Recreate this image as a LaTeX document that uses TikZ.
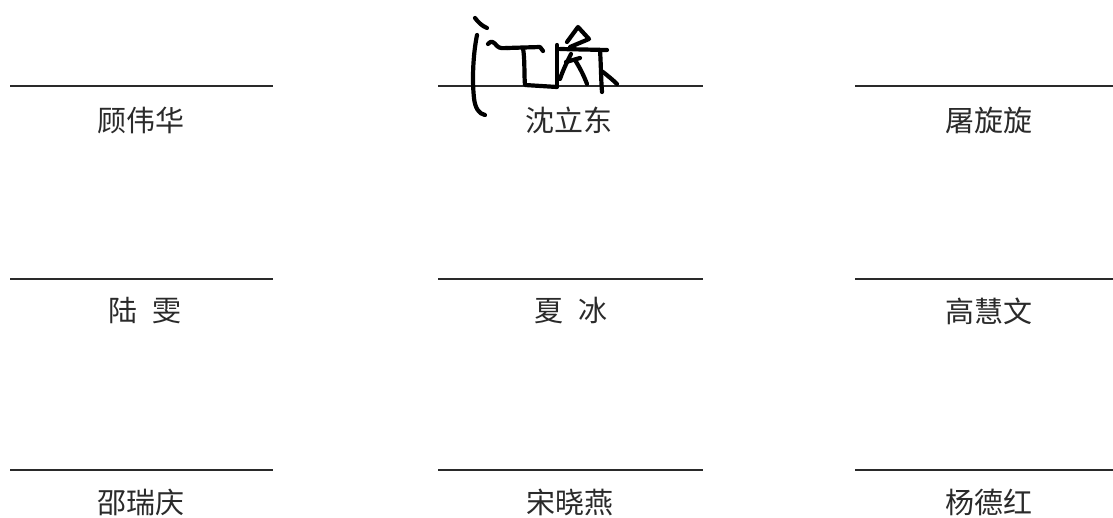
\documentclass[tikz,border=0pt]{standalone}
\usepackage{fontspec}
\newfontfamily\cjk{Noto Sans CJK SC}
\definecolor{inkgray}{HTML}{2A2A2A}
\tikzset{
  signline/.style={draw=inkgray, line width=1.6pt},
  signname/.style={inner sep=0pt, text=inkgray, font=\cjk\fontsize{29}{34}\selectfont},
  pen/.style={draw=black, line width=4.2pt, line cap=round, line join=round}
}
\begin{document}
\begin{tikzpicture}[x=1pt, y=-1pt]
\useasboundingbox[fill=white] (0,0) rectangle (1113,517);
% row 1
\coordinate (l1a) at (10,86);
\coordinate (l1b) at (273,86);
\coordinate (l2a) at (438,86);
\coordinate (l2b) at (703,86);
\coordinate (l3a) at (855,86);
\coordinate (l3b) at (1113,86);
\draw[signline] (l1a) -- (l1b);
\draw[signline] (l2a) -- (l2b);
\draw[signline] (l3a) -- (l3b);
\node[signname] (n1) at (141,120) {顾伟华};
\node[signname] (n2) at (569,120) {沈立东};
\node[signname] (n3) at (989,120) {屠旋旋};
% row 2
\coordinate (l4a) at (10,279);
\coordinate (l4b) at (273,279);
\coordinate (l5a) at (438,279);
\coordinate (l5b) at (703,279);
\coordinate (l6a) at (855,279);
\coordinate (l6b) at (1113,279);
\draw[signline] (l4a) -- (l4b);
\draw[signline] (l5a) -- (l5b);
\draw[signline] (l6a) -- (l6b);
\node[signname] (n4) at (145,311) {陆\hspace{0.55em}雯};
\node[signname] (n5) at (571,311) {夏\hspace{0.55em}冰};
\node[signname] (n6) at (989,311) {高慧文};
% row 3
\coordinate (l7a) at (10,470);
\coordinate (l7b) at (273,470);
\coordinate (l8a) at (438,470);
\coordinate (l8b) at (703,470);
\coordinate (l9a) at (855,470);
\coordinate (l9b) at (1113,470);
\draw[signline] (l7a) -- (l7b);
\draw[signline] (l8a) -- (l8b);
\draw[signline] (l9a) -- (l9b);
\node[signname] (n7) at (141,502) {邵瑞庆};
\node[signname] (n8) at (570,502) {宋晓燕};
\node[signname] (n9) at (989,502) {杨德红};
% handwritten signature over the middle line
\draw[pen] (475,18) .. controls (478,22) and (482,26) .. (487,28);
\draw[pen] (477,35) .. controls (473,55) and (472,80) .. (474,98) .. controls (475,108) and (479,114) .. (485,115);
\draw[pen] (488,44) .. controls (491,40) and (494,42) .. (497,46) .. controls (500,49) and (504,48) .. (507,48);
\draw[pen] (507,48) -- (540,47) -- (543,51);
\draw[pen] (523,48) .. controls (525,60) and (524,75) .. (525,85) -- (557,87);
\draw[pen] (557,45) -- (557,86);
\draw[pen] (567,42) -- (578,27) -- (589,39) -- (570,47);
\draw[pen] (560,49) -- (607,50);
\draw[pen] (600,50) .. controls (601,65) and (601,80) .. (602,92);
\draw[pen] (571,54) .. controls (567,62) and (563,70) .. (560,79);
\draw[pen] (575,60) .. controls (580,68) and (584,76) .. (587,84);
\draw[pen] (566,62) -- (580,58);
\draw[pen] (603,72) .. controls (608,76) and (613,80) .. (617,84);
\end{tikzpicture}
\end{document}
